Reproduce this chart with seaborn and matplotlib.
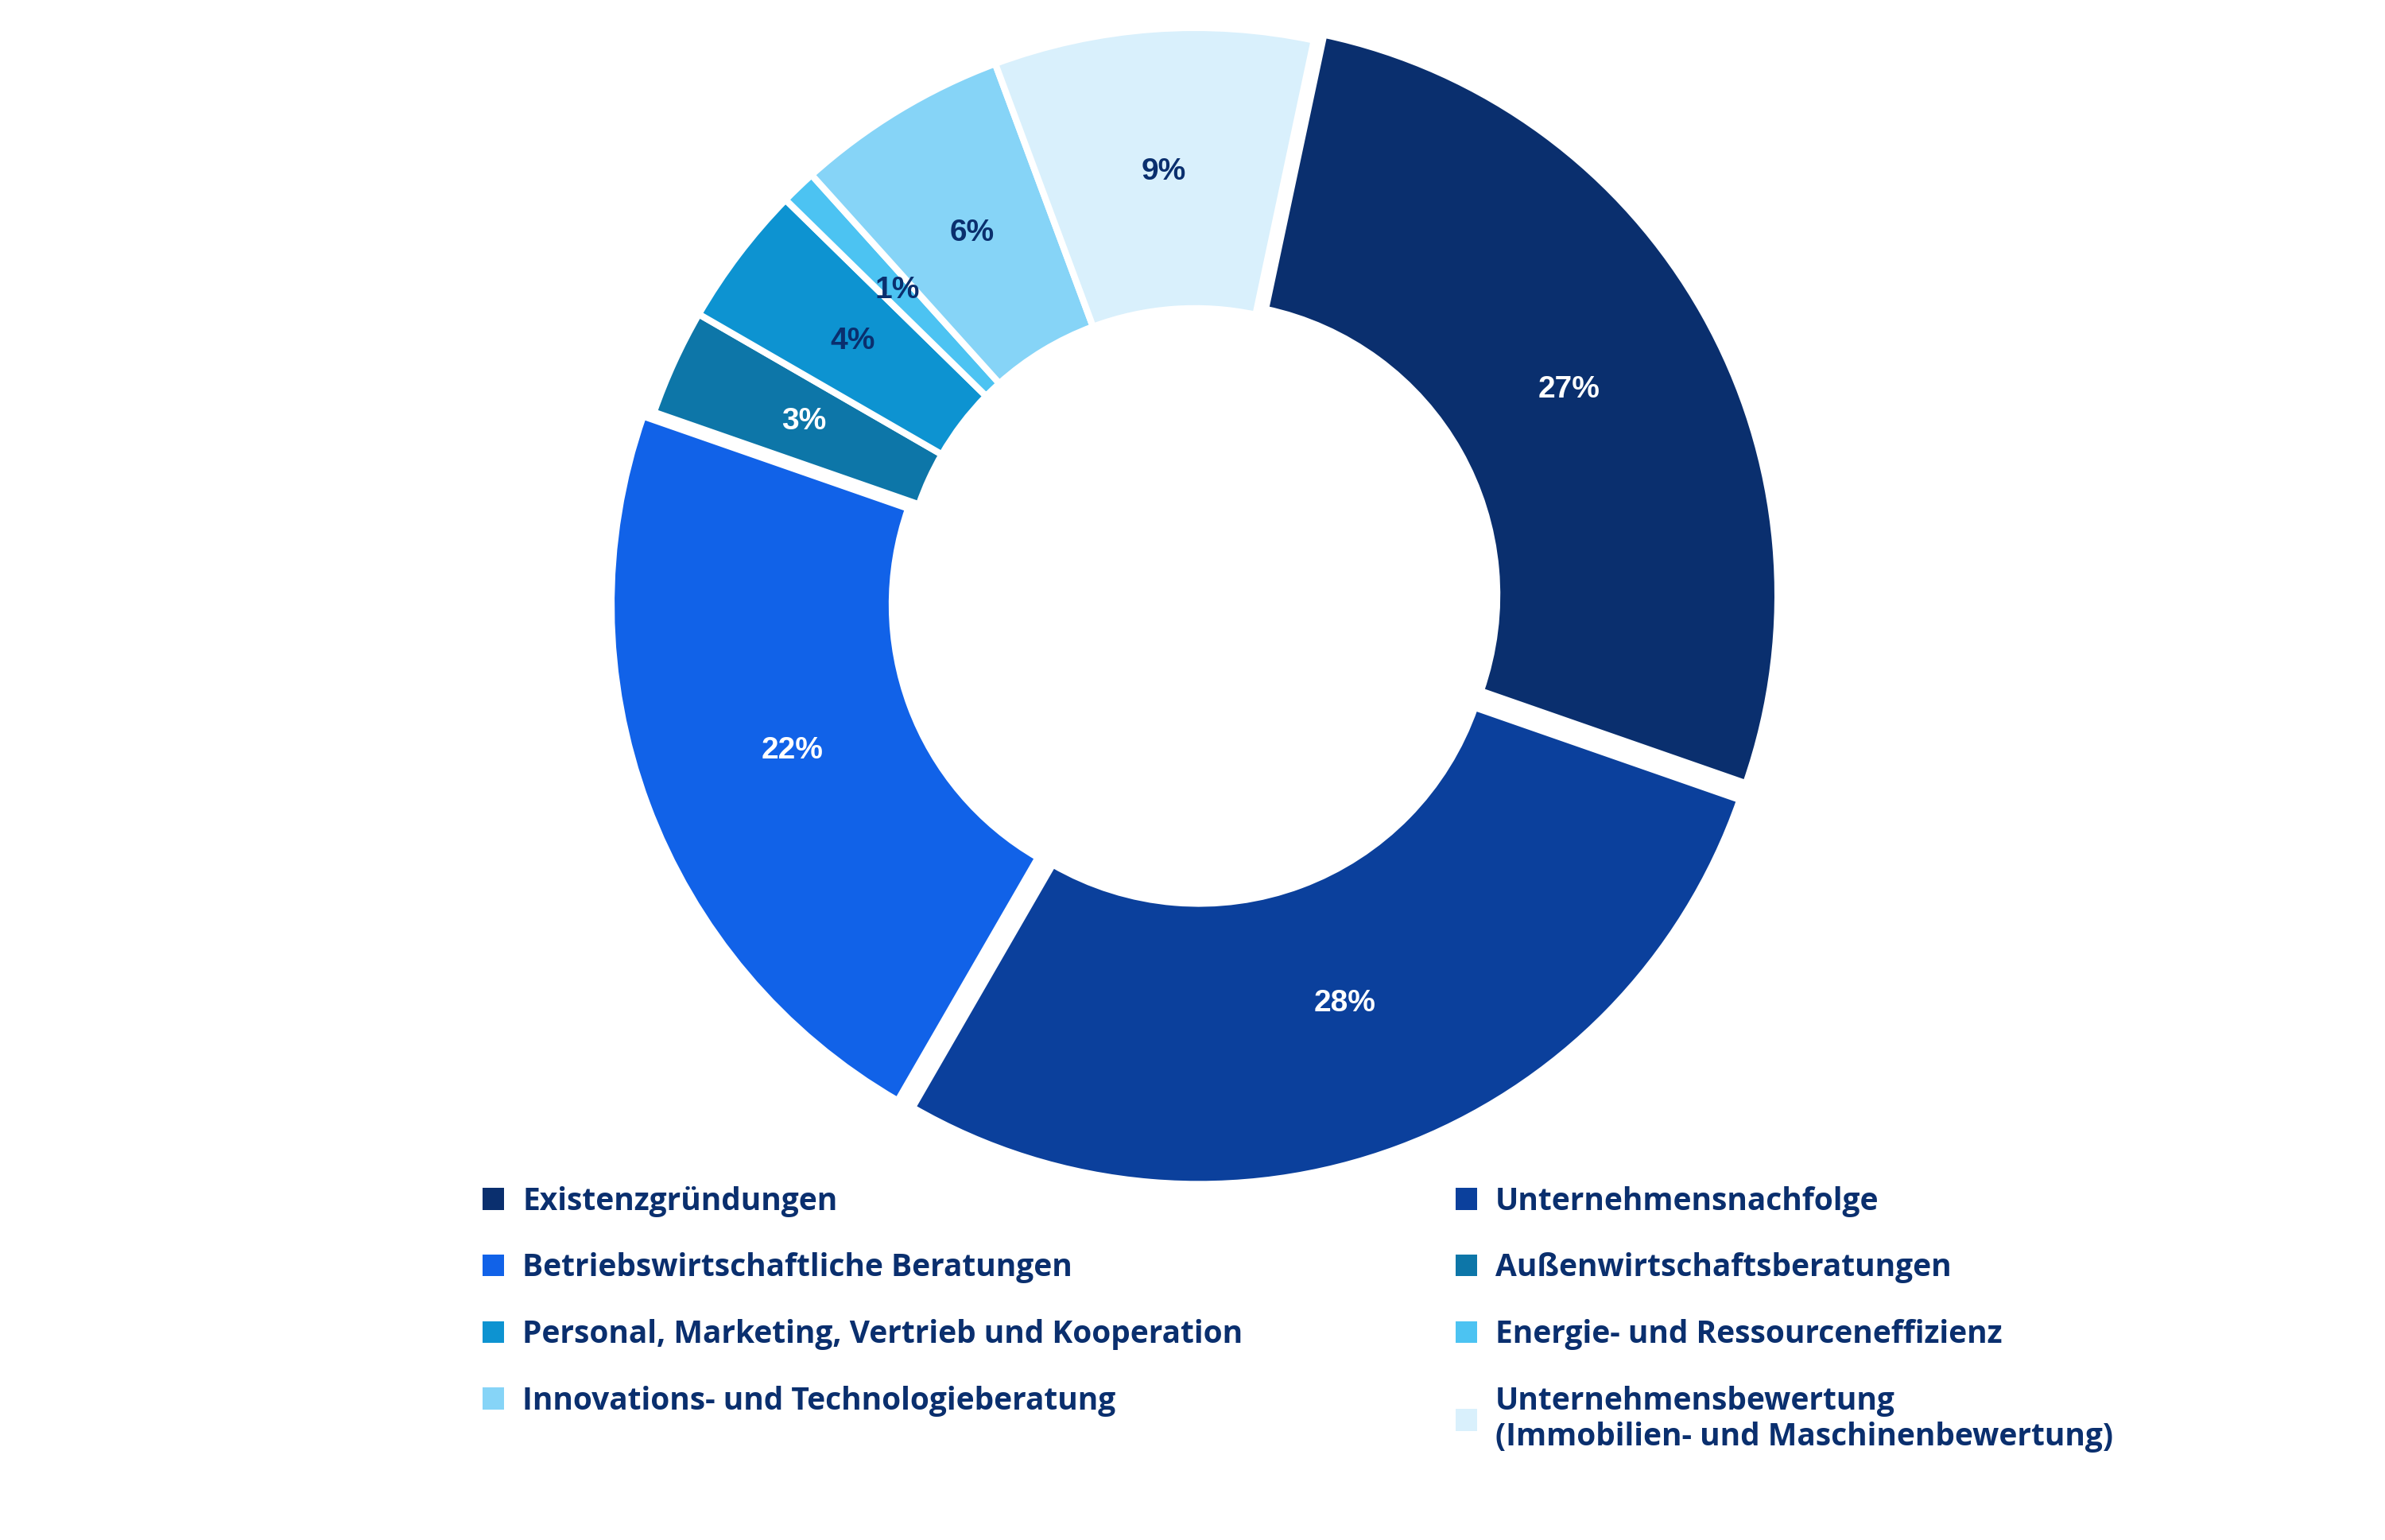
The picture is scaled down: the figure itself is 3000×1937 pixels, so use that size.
import matplotlib
matplotlib.use("Agg")
import matplotlib.pyplot as plt
import seaborn as sns
import numpy as np
from matplotlib.patches import Patch

sns.set_theme(style="white")
plt.rcParams['font.family'] = ['Open Sans', 'DejaVu Sans']

categories = ["Existenzgründungen", "Unternehmensnachfolge", "Betriebswirtschaftliche Beratungen",
              "Außenwirtschaftsberatungen", "Personal, Marketing, Vertrieb und Kooperation",
              "Energie- und Ressourceneffizienz", "Innovations- und Technologieberatung",
              "Unternehmensbewertung\n(Immobilien- und Maschinenbewertung)"]
values = [27, 28, 22, 3, 4, 1, 6, 9]
colors = ["#0a2f6e", "#0b409c", "#1162e8", "#0d76a8", "#0d93d1", "#4cc3f2", "#86d4f7", "#d9f0fc"]
label_colors = ["white", "white", "white", "white", "#0a2f6e", "#0a2f6e", "#0a2f6e", "#0a2f6e"]
explode = [0.02, 0.02, 0.02, 0, 0, 0, 0, 0]
navy = "#0a2f6e"

fig = plt.figure(figsize=(15, 9.685), dpi=200)
h = 0.93
ax = fig.add_axes([0.501 - h / 2 * 9.685 / 15, 0.61 - h / 2, h * 9.685 / 15, h])
wedges, texts = ax.pie(values, colors=colors, startangle=78, counterclock=False,
                       explode=explode, radius=1.0,
                       wedgeprops=dict(width=0.49, edgecolor="white", linewidth=3))
for w, v, c in zip(wedges, values, label_colors):
    ang = np.deg2rad((w.theta1 + w.theta2) / 2)
    r = 0.75
    ax.text(r * np.cos(ang), r * np.sin(ang), f"{v}%", ha="center", va="center",
            color=c, fontsize=14, fontweight="bold", family="Liberation Sans")
ax.set_aspect("equal")

handles = [Patch(facecolor=c, edgecolor="none") for c in colors]
for idxs, x in ([0, 2, 4, 6], 0.197), ([1, 3, 5, 7], 0.605):
    leg = fig.legend([handles[i] for i in idxs], [categories[i] for i in idxs],
                     loc="upper left", bbox_to_anchor=(x, 0.238), frameon=False,
                     fontsize=14, labelspacing=1.15, handlelength=0.7, handleheight=0.7,
                     handletextpad=0.6, borderaxespad=0)
    for t in leg.get_texts():
        t.set_color(navy)
        t.set_fontweight("bold")

fig.savefig("out.png", dpi=200)
